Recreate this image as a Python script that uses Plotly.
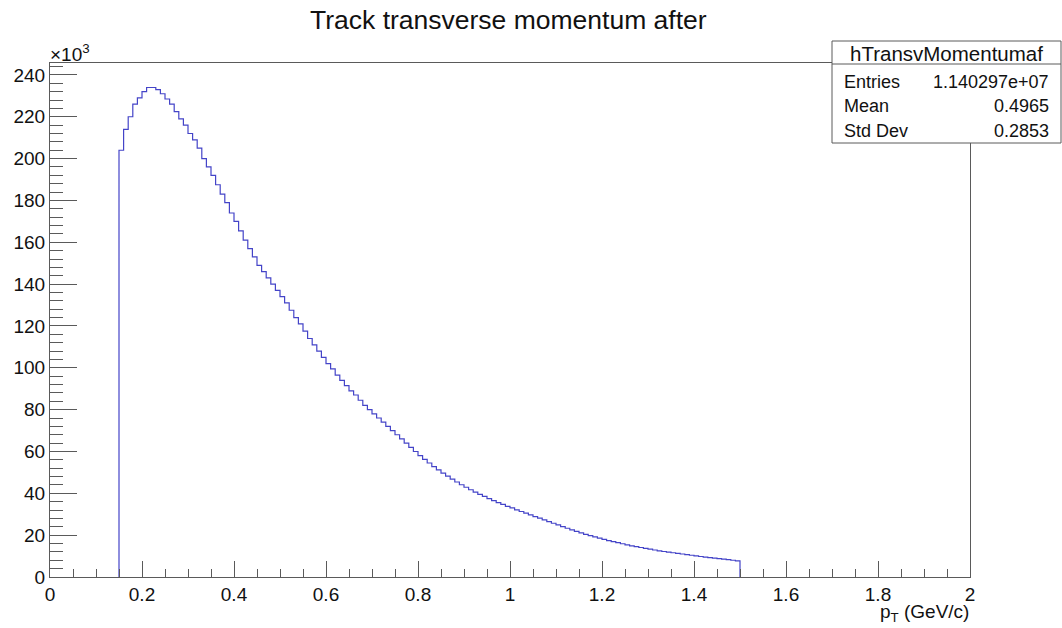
import plotly.graph_objects as go

# Histogram hTransvMomentumaf: 0.01 GeV/c bins, filled from 0.15 to 1.50 GeV/c
bin_low_edge = 0.15
bin_width = 0.01
counts_k = [
    204.0, 214.0, 220.0, 226.0, 229.0, 232.0, 234.0, 234.0, 233.0, 231.0,
    228.5, 226.0, 222.5, 219.0, 216.0, 212.0, 209.0, 205.0, 200.0, 196.0,
    192.0, 187.5, 183.0, 179.0, 174.0, 170.0, 165.5, 161.0, 157.0, 153.0,
    149.0, 146.0, 143.0, 140.0, 137.0, 134.0, 131.0, 127.5, 124.0, 121.0,
    117.5, 114.0, 111.0, 108.0, 105.0, 102.0, 99.5, 96.5, 94.0, 91.5,
    89.0, 87.0, 84.5, 82.0, 80.0, 78.0, 76.0, 74.0, 72.0, 70.0,
    68.0, 66.0, 64.0, 62.0, 60.0, 58.0, 56.2, 54.5, 52.8, 51.2,
    49.7, 48.2, 46.8, 45.4, 44.1, 42.9, 41.7, 40.6, 39.5, 38.5,
    37.5, 36.5, 35.6, 34.7, 33.8, 33.0, 32.1, 31.3, 30.5, 29.7,
    28.9, 28.1, 27.3, 26.5, 25.7, 24.9, 24.1, 23.3, 22.5, 21.8,
    21.1, 20.4, 19.8, 19.2, 18.6, 18.0, 17.4, 16.9, 16.4, 15.9,
    15.4, 14.9, 14.5, 14.1, 13.7, 13.3, 12.9, 12.5, 12.2, 11.9,
    11.6, 11.3, 11.0, 10.7, 10.4, 10.1, 9.8, 9.5, 9.3, 9.0,
    8.8, 8.5, 8.3, 8.0, 7.7,
]

title_text = "Track transverse momentum after"
hist_name = "hTransvMomentumaf"
stats_labels = ["Entries", "Mean", "Std Dev"]
stats_values = ["1.140297e+07", "0.4965", "0.2853"]
x_title = "p<sub>T</sub> (GeV/c)"
y_exponent = "\u00d710<sup>3</sup>"

x_range = [0.0, 2.0]
y_max = 1.05 * max(counts_k)

# step outline: rise at the first edge, a step per bin, drop at the last edge
n_bins = len(counts_k)
lows = [bin_low_edge + i * bin_width for i in range(n_bins)]
x_line = [lows[0]] + lows + [bin_low_edge + n_bins * bin_width]
y_line = [0.0] + counts_k + [0.0]

W, H = 1062, 628
L, R, T, B = 50, 92, 63, 51
PW, PH = W - L - R, H - T - B


def px(xp):
    return (xp - L) / PW


def py(yp):
    return (H - B - yp) / PH


FONT = "Liberation Sans, Arial, Helvetica, sans-serif"
FRAME = "#5a5a5a"
LINE_BLUE = "#4444c8"

fig = go.Figure()
fig.add_trace(go.Scatter(
    x=x_line, y=y_line, mode="lines",
    line=dict(color=LINE_BLUE, width=1.2, shape="hv"),
    hoverinfo="skip", showlegend=False,
))

axis_common = dict(
    showgrid=False, zeroline=False, showline=True, mirror=True,
    linecolor=FRAME, linewidth=1, ticks="inside", tickcolor=FRAME,
    tickwidth=1, tickfont=dict(family=FONT, size=19, color="#111"),
)

fig.update_layout(
    width=W, height=H,
    margin=dict(l=L, r=R, t=T, b=B),
    paper_bgcolor="white", plot_bgcolor="white",
    font=dict(family=FONT, color="#111"),
    showlegend=False,
    xaxis=dict(
        range=x_range, dtick=0.2, tick0=0, ticklen=16,
        minor=dict(ticks="inside", dtick=0.05, tick0=0, ticklen=8,
                   tickcolor=FRAME, tickwidth=1),
        tickformat="~g",
        **axis_common,
    ),
    yaxis=dict(
        range=[0, y_max], dtick=20, tick0=0, ticklen=27,
        minor=dict(ticks="inside", dtick=4, tick0=0, ticklen=13,
                   tickcolor=FRAME, tickwidth=1),
        **axis_common,
    ),
)

annotations = [
    dict(text=title_text, x=px(508), y=py(20), xanchor="center", yanchor="middle",
         font=dict(size=26.5, family=FONT, color="#111")),
    dict(text=y_exponent, x=px(48), y=py(53), xanchor="left", yanchor="middle",
         font=dict(size=19, family=FONT, color="#111")),
    dict(text=x_title, x=px(971), y=py(613), xanchor="right", yanchor="middle",
         font=dict(size=19, family=FONT, color="#111")),
]

# statistics box
box_l, box_r, box_t, box_b, box_sep = 832, 1061, 41, 143, 64
shapes = [
    dict(type="rect", xref="paper", yref="paper",
         x0=px(box_l), x1=px(box_r), y0=py(box_b), y1=py(box_t),
         line=dict(color=FRAME, width=1), fillcolor="white", layer="above"),
    dict(type="line", xref="paper", yref="paper",
         x0=px(box_l), x1=px(box_r), y0=py(box_sep), y1=py(box_sep),
         line=dict(color=FRAME, width=1), layer="above"),
]
annotations.append(dict(text=hist_name, x=px((box_l + box_r) / 2), y=py(53),
                        xanchor="center", yanchor="middle",
                        font=dict(size=20.5, family=FONT, color="#111")))
row_y = [81.5, 106, 130.5]
for lab, val, yy in zip(stats_labels, stats_values, row_y):
    annotations.append(dict(text=lab, x=px(842), y=py(yy), xanchor="left",
                            yanchor="middle", font=dict(size=18, family=FONT, color="#111")))
    annotations.append(dict(text=val, x=px(1051), y=py(yy), xanchor="right",
                            yanchor="middle", font=dict(size=18, family=FONT, color="#111")))

for a in annotations:
    a.update(xref="paper", yref="paper", showarrow=False)

fig.update_layout(annotations=annotations, shapes=shapes)

fig.write_html("out.html")
